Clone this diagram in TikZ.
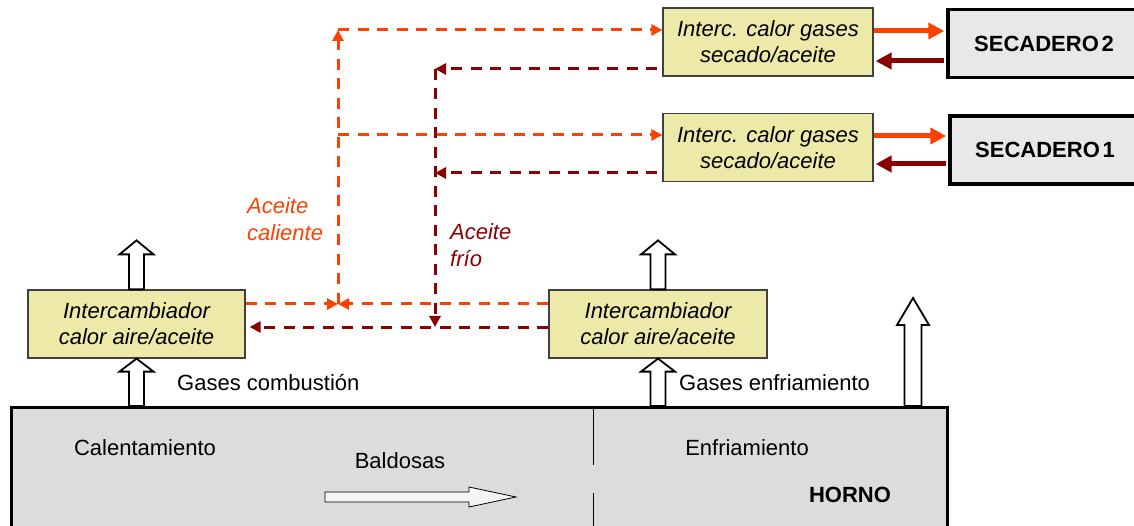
\documentclass[tikz,border=0pt]{standalone}
\usepackage{fontspec}
\setmainfont{Liberation Sans}
\usetikzlibrary{arrows.meta,calc}
\definecolor{hot}{HTML}{FF4000}
\definecolor{cold}{HTML}{8B0000}
\definecolor{hxfill}{HTML}{EDE9A9}
\definecolor{secfill}{HTML}{E8E8E8}
\definecolor{kilnfill}{HTML}{DCDCDC}

% hollow upward arrow: base point, tip point, shaft half width, head half width, head length
\newcommand\fatarrow[5]{%
  \path #1 coordinate (fa-b) #2 coordinate (fa-t);
  \draw[fat] ($(fa-b)+(-#3,0)$) -- ($(fa-t)+(-#3,#5)$) -- ($(fa-t)+(-#4,#5)$)
    -- (fa-t) -- ($(fa-t)+(#4,#5)$) -- ($(fa-t)+(#3,#5)$) -- ($(fa-b)+(#3,0)$) -- cycle;}

\begin{document}
\begin{tikzpicture}[x=1pt,y=-1pt,
  txt/.style={inner sep=0pt, font=\fontsize{22}{26}\selectfont},
  hx/.style={draw=black!75, line width=1.2pt, fill=hxfill, minimum height=68pt,
    align=center, inner sep=0pt, font=\fontsize{22}{26}\selectfont\itshape},
  dryer/.style={draw=black, line width=3.5pt, fill=secfill, minimum height=68pt,
    inner sep=0pt, font=\fontsize{22}{26}\selectfont\bfseries},
  hotflow/.style={draw=hot, line width=3pt, dash pattern=on 11pt off 8.5pt},
  coldflow/.style={draw=cold, line width=3pt, dash pattern=on 11pt off 8.5pt},
  tipd/.style={-{Triangle[length=11pt,width=11pt]}},
  feed/.style={line width=5pt, -{Triangle[length=16pt,width=16pt]}},
  fat/.style={draw=black, line width=1.8pt, fill=white, line join=miter},
]
\useasboundingbox (0,0) rectangle (1134,526);

% furnace
\node[draw=black, line width=3pt, fill=kilnfill, minimum width=936pt, minimum height=150pt,
  inner sep=0pt, anchor=north west] (horno) at (10,406) {};
\coordinate (divx) at (593,0);
\draw[line width=0.8pt] (horno.north -| divx) -- (593,465);
\draw[line width=0.8pt] (593,493) -- (horno.south -| divx);
\node[txt] (calTxt) at (145,448) {Calentamiento};
\node[txt] (balTxt) at (400,461) {Baldosas};
\node[txt] (enfTxt) at (747,448) {Enfriamiento};
\node[txt, font=\fontsize{22}{26}\selectfont\bfseries] (hornoTxt) at (850,495) {HORNO};
\draw[line width=0.8pt, fill=white!70!kilnfill] (325,492) -- (469,492) -- (469,487) -- (516,497)
  -- (469,507) -- (469,502) -- (325,502) -- cycle;

% heat exchangers
\node[hx, minimum width=217pt] (hxL) at (136.5,324) {Intercambiador\\calor aire/aceite};
\node[hx, minimum width=218pt] (hxR) at (658,324) {Intercambiador\\calor aire/aceite};
\node[hx, minimum width=210pt] (hxT2) at (768,42) {Interc. calor gases\\secado/aceite};
\node[hx, minimum width=210pt] (hxT1) at (768,147.5) {Interc. calor gases\\secado/aceite};

% dryers
\node[dryer, minimum width=192pt] (sec2) at (1044,43.5) {SECADERO\hspace{0.12em}2};
\node[dryer, minimum width=190pt] (sec1) at (1045,150) {SECADERO\hspace{0.12em}1};

% gas flows
\fatarrow{(horno.north -| hxL.south)}{(hxL.south)}{7.5}{17}{13}
\fatarrow{(hxL.north)}{($(hxL.north)+(0,-49)$)}{7.5}{17}{14}
\fatarrow{(horno.north -| hxR.south)}{(hxR.south)}{7.5}{17}{13}
\fatarrow{(hxR.north)}{($(hxR.north)+(0,-49)$)}{7.5}{17}{14}
\coordinate (exhaust) at (913,298);
\fatarrow{(horno.north -| exhaust)}{(exhaust)}{8.5}{16}{27}
\node[txt, anchor=west] (gasC) at (177,383) {Gases combustión};
\node[txt, anchor=west] (gasE) at (679,383) {Gases enfriamiento};

% thermal oil circuit
\coordinate (hotJ) at (338,304);
\coordinate (coldJ) at (435,327);
\coordinate (hotT2) at (338,30);
\coordinate (hotT1) at (338,135);
\coordinate (coldT2) at (435,69);
\coordinate (coldT1) at (435,173);

\draw[hotflow, tipd] (hxL.east |- hotJ) -- (hotJ);
\draw[hotflow, tipd] (hxR.west |- hotJ) -- (hotJ);
\draw[hotflow, tipd] (hotJ) -- (hotT2);
\draw[hotflow, tipd] (hotT2) -- (hxT2.west |- hotT2);
\draw[hotflow, tipd] (hotT1) -- (hxT1.west |- hotT1);

\draw[coldflow, tipd, shorten <=5pt] (hxT2.west |- coldT2) -- (coldT2);
\draw[coldflow, tipd, shorten <=5pt] (hxT1.west |- coldT1) -- (coldT1);
\draw[coldflow, tipd] (coldT2) -- (coldJ);
\draw[coldflow, tipd, shorten >=4pt] (hxR.west |- coldJ) -- (hxL.east |- coldJ);

\node[txt, font=\fontsize{22}{27}\selectfont\itshape, text=hot, align=left, anchor=west]
  (hotLbl) at (247,219) {Aceite\\caliente};
\node[txt, font=\fontsize{22}{27}\selectfont\itshape, text=cold, align=left, anchor=west]
  (coldLbl) at (450,245) {Aceite\\frío};

% dryer loops
\coordinate (s2out) at (0,31);
\coordinate (s2in) at (0,61);
\coordinate (s1out) at (0,136);
\coordinate (s1in) at (0,164);
\draw[hot, feed, shorten >=2pt] (hxT2.east |- s2out) -- (sec2.west |- s2out);
\draw[cold, feed, shorten <=2pt, shorten >=2pt] (sec2.west |- s2in) -- (hxT2.east |- s2in);
\draw[hot, feed, shorten >=2pt] (hxT1.east |- s1out) -- (sec1.west |- s1out);
\draw[cold, feed, shorten <=2pt, shorten >=2pt] (sec1.west |- s1in) -- (hxT1.east |- s1in);
\end{tikzpicture}
\end{document}
